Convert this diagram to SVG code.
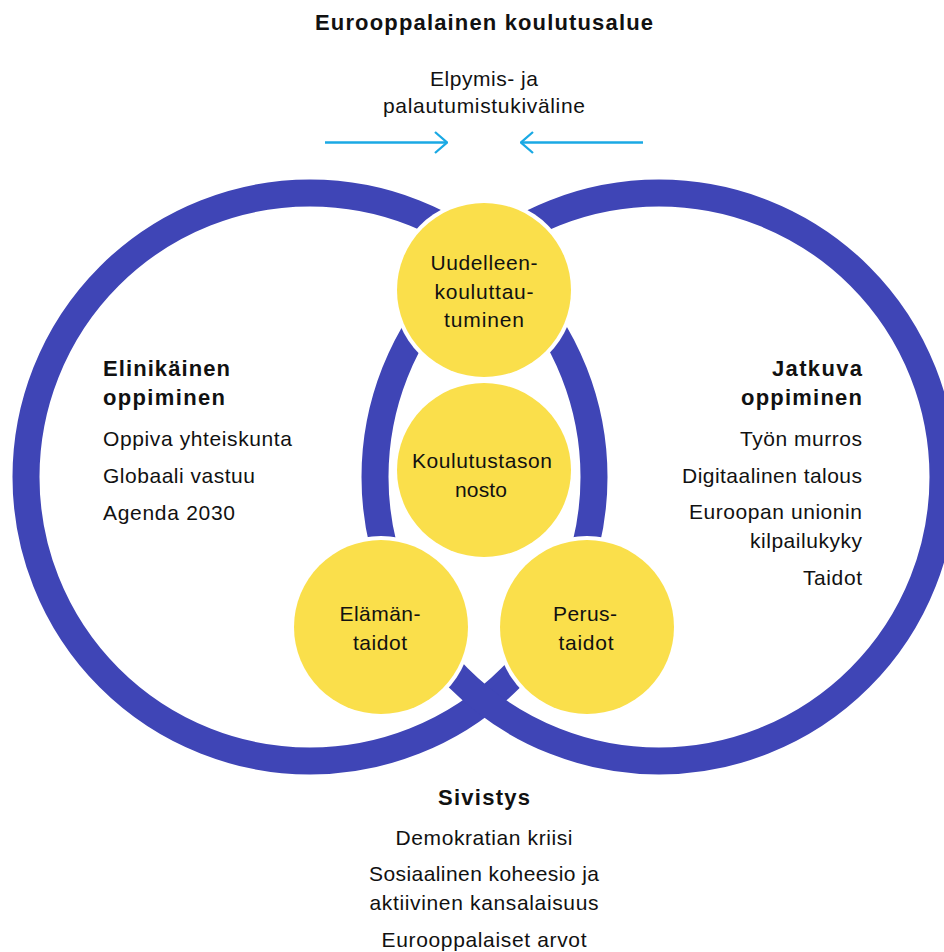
<svg xmlns="http://www.w3.org/2000/svg" width="944" height="952" viewBox="0 0 944 952">
  <defs>
    <style>
      .ring { fill: none; stroke: #3f45b6; stroke-width: 27; }
      .halo { fill: #ffffff; }
      .bubble { fill: #fadf4b; }
      .t { font-family: "Liberation Sans", Arial, sans-serif; font-size: 21px; fill: #111111; }
      .c { text-anchor: middle; }
      .e { text-anchor: end; }
      .b { font-weight: bold; font-size: 22px; }
      .arrow { fill: none; stroke: #1aa9e4; stroke-width: 2.3; }
    </style>
    <marker id="chev" markerUnits="userSpaceOnUse" viewBox="0 0 14 24" refX="13" refY="12" markerWidth="14" markerHeight="24" orient="auto">
      <polyline points="1,1.5 13,12 1,22.5" fill="none" stroke="#1aa9e4" stroke-width="2.3"/>
    </marker>
  </defs>

  <rect width="944" height="952" fill="#ffffff"/>

  <!-- heading -->
  <g id="title">
    <text class="t c b" x="484" y="30" textLength="338">Eurooppalainen koulutusalue</text>
  </g>
  <g id="funding">
    <text class="t c" x="484" y="86" textLength="108">Elpymis- ja</text>
    <text class="t c" x="484" y="113" textLength="202">palautumistukiväline</text>
  </g>

  <!-- arrows pointing inwards -->
  <g id="connectors">
    <line class="arrow" x1="325" y1="142.5" x2="447" y2="142.5" marker-end="url(#chev)"/>
    <line class="arrow" x1="643" y1="142.5" x2="521" y2="142.5" marker-end="url(#chev)"/>
  </g>

  <!-- the two big rings -->
  <g id="ring-left">
    <circle class="ring" cx="310" cy="477" r="284"/>
  </g>
  <g id="ring-right">
    <circle class="ring" cx="659" cy="477" r="284"/>
  </g>

  <!-- ring labels -->
  <g id="lifelong">
    <text class="t b" x="103" y="376" textLength="127">Elinikäinen</text>
    <text class="t b" x="103" y="405" textLength="122">oppiminen</text>
    <text class="t" x="103" y="446" textLength="189">Oppiva yhteiskunta</text>
    <text class="t" x="103" y="483" textLength="152">Globaali vastuu</text>
    <text class="t" x="103" y="520" textLength="132">Agenda 2030</text>
  </g>
  <g id="continuous">
    <text class="t e b" x="862" y="376" textLength="90">Jatkuva</text>
    <text class="t e b" x="862" y="405" textLength="121">oppiminen</text>
    <text class="t e" x="862" y="446" textLength="122">Työn murros</text>
    <text class="t e" x="862" y="483" textLength="180">Digitaalinen talous</text>
    <text class="t e" x="862" y="519" textLength="173">Euroopan unionin</text>
    <text class="t e" x="862" y="548" textLength="112">kilpailukyky</text>
    <text class="t e" x="862" y="585" textLength="59">Taidot</text>
  </g>
  <g id="civilisation">
    <text class="t c b" x="484" y="805" textLength="92">Sivistys</text>
    <text class="t c" x="484" y="845" textLength="177">Demokratian kriisi</text>
    <text class="t c" x="484" y="881" textLength="230">Sosiaalinen koheesio ja</text>
    <text class="t c" x="484" y="910" textLength="229">aktiivinen kansalaisuus</text>
    <text class="t c" x="484" y="947" textLength="205">Eurooppalaiset arvot</text>
  </g>

  <!-- yellow bubbles -->
  <g id="retraining">
    <circle class="halo" cx="484" cy="290" r="91"/>
    <circle class="bubble" cx="484" cy="290" r="87"/>
    <text class="t c" x="484" y="270" textLength="107">Uudelleen-</text>
    <text class="t c" x="484" y="299" textLength="99">kouluttau-</text>
    <text class="t c" x="484" y="327" textLength="80">tuminen</text>
  </g>
  <g id="upskilling">
    <circle class="halo" cx="484" cy="470" r="91"/>
    <circle class="bubble" cx="484" cy="470" r="87"/>
    <text class="t c" x="482" y="468" textLength="140">Koulutustason</text>
    <text class="t c" x="481" y="497" textLength="52">nosto</text>
  </g>
  <g id="life-skills">
    <circle class="halo" cx="381" cy="627" r="91"/>
    <circle class="bubble" cx="381" cy="627" r="87"/>
    <text class="t c" x="380" y="621" textLength="81">Elämän-</text>
    <text class="t c" x="380" y="650" textLength="54">taidot</text>
  </g>
  <g id="basic-skills">
    <circle class="halo" cx="587" cy="627" r="91"/>
    <circle class="bubble" cx="587" cy="627" r="87"/>
    <text class="t c" x="585" y="621" textLength="64">Perus-</text>
    <text class="t c" x="586" y="650" textLength="55">taidot</text>
  </g>
</svg>
